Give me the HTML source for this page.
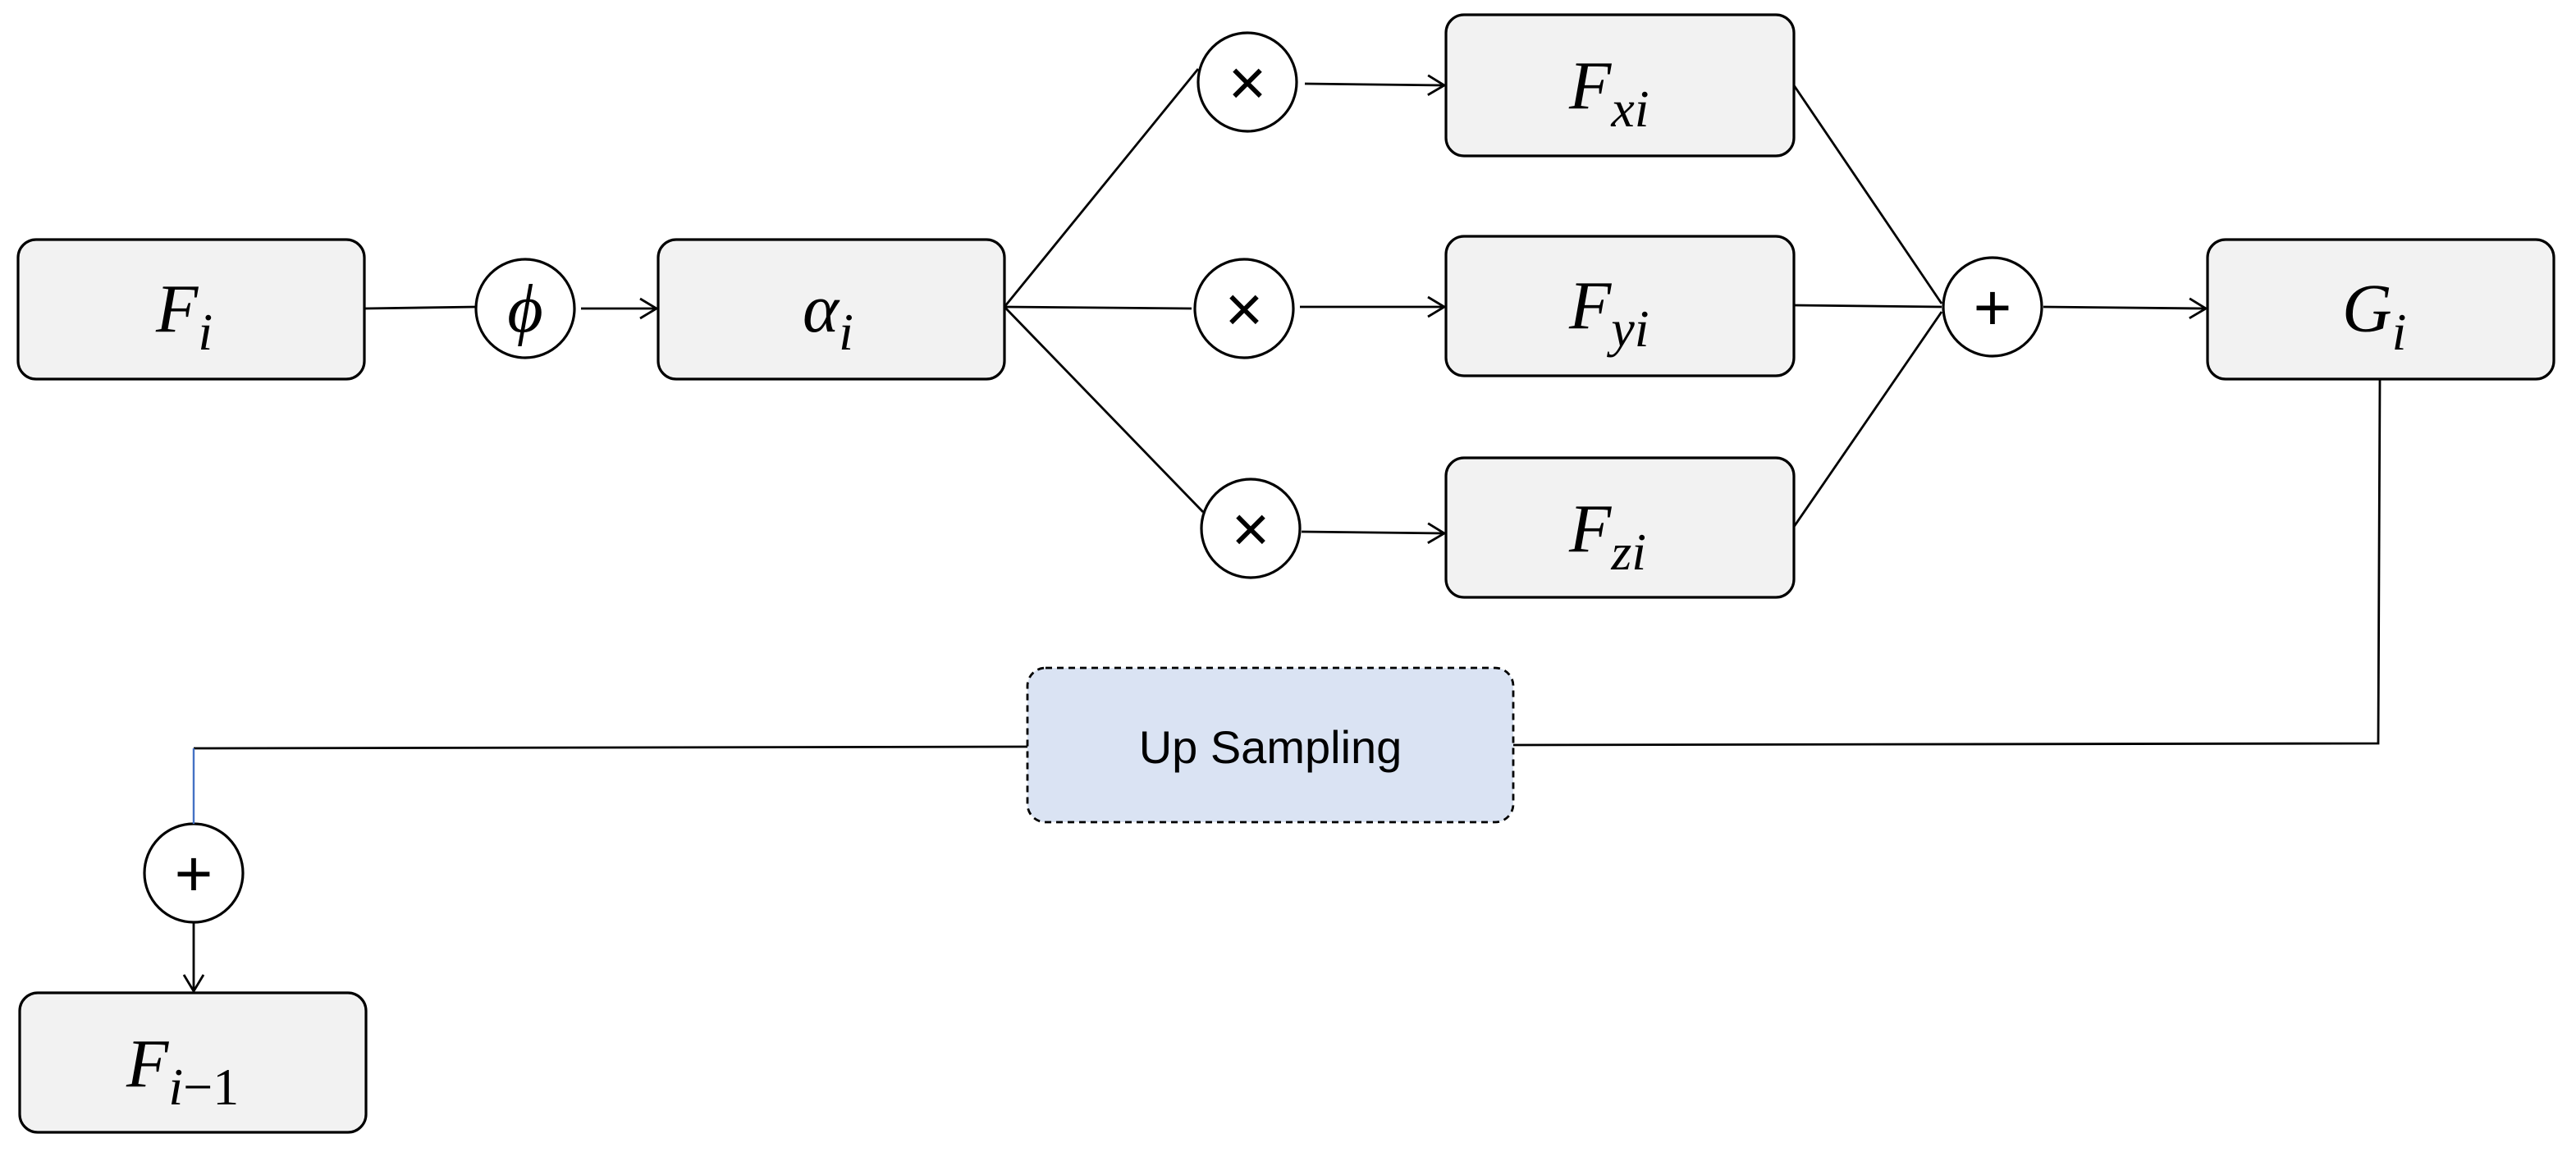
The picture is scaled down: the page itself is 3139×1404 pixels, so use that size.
<!DOCTYPE html>
<html><head><meta charset="utf-8"><style>
html,body{margin:0;padding:0;background:#fff;}
svg{display:block;}
.m{font-family:"Liberation Serif",serif;font-style:italic;}
</style></head><body>
<svg width="3139" height="1404" viewBox="0 0 1569.5 702" xmlns="http://www.w3.org/2000/svg">
<defs>
<marker id="a" markerWidth="14" markerHeight="14" refX="11" refY="7" orient="auto" markerUnits="userSpaceOnUse">
<path d="M1,1 L11,7 L1,13" fill="none" stroke="#000" stroke-width="1.4"/>
</marker>
</defs>
<g fill="#f2f2f2" stroke="#000" stroke-width="1.6">
<rect x="11" y="146" width="211" height="85" rx="11"/>
<rect x="401" y="146" width="211" height="85" rx="11"/>
<rect x="881" y="9" width="212" height="86" rx="11"/>
<rect x="881" y="144" width="212" height="85" rx="11"/>
<rect x="881" y="279" width="212" height="85" rx="11"/>
<rect x="1345" y="146" width="211" height="85" rx="11"/>
<rect x="12" y="605" width="211" height="85" rx="11"/>
</g>
<rect x="626" y="407" width="296" height="94" rx="11" fill="#dae3f3" stroke="#000" stroke-width="1.4" stroke-dasharray="4,3"/>
<g fill="#fff" stroke="#000" stroke-width="1.6">
<circle cx="320" cy="188" r="30"/>
<circle cx="760" cy="50" r="30"/>
<circle cx="758" cy="188" r="30"/>
<circle cx="762" cy="322" r="30"/>
<circle cx="1214" cy="187" r="30"/>
<circle cx="118" cy="532" r="30"/>
</g>
<g stroke="#000" stroke-width="1.4" fill="none">
<line x1="222" y1="188" x2="290" y2="187"/>
<line x1="354" y1="188" x2="400" y2="188" marker-end="url(#a)"/>
<line x1="612" y1="187" x2="730" y2="42"/>
<line x1="612" y1="187" x2="726" y2="188"/>
<line x1="612" y1="187" x2="733" y2="312"/>
<line x1="795" y1="51" x2="880" y2="52" marker-end="url(#a)"/>
<line x1="792" y1="187" x2="880" y2="187" marker-end="url(#a)"/>
<line x1="793" y1="324" x2="880" y2="325" marker-end="url(#a)"/>
<line x1="1093" y1="52" x2="1183" y2="185"/>
<line x1="1093" y1="186" x2="1183" y2="187"/>
<line x1="1093" y1="321" x2="1183" y2="190"/>
<line x1="1245" y1="187" x2="1344" y2="188" marker-end="url(#a)"/>
<polyline points="1450,231 1449,453 922,454"/>
<line x1="626" y1="455" x2="118" y2="456"/>
<line x1="118" y1="562" x2="118" y2="604" marker-end="url(#a)"/>
</g>
<line x1="118" y1="456" x2="118" y2="502" stroke="#4472c4" stroke-width="1.2"/>
<g font-family="Liberation Sans, sans-serif" font-size="40" text-anchor="middle">
<text x="760" y="64">×</text>
<text x="758" y="202">×</text>
<text x="762" y="336">×</text>
<text x="1214" y="201">+</text>
<text x="118" y="546">+</text>
</g>
<g class="m" font-size="42">
<text x="320" y="202" text-anchor="middle">ϕ</text>
<text x="95" y="202">F<tspan font-size="32" dy="11">i</tspan></text>
<text x="489" y="202">α<tspan font-size="32" dy="11">i</tspan></text>
<text x="956" y="66">F<tspan font-size="32" dy="11">xi</tspan></text>
<text x="956" y="200">F<tspan font-size="32" dy="11">yi</tspan></text>
<text x="956" y="336">F<tspan font-size="32" dy="11">zi</tspan></text>
<text x="1427" y="202">G<tspan font-size="32" dy="11">i</tspan></text>
<text x="77" y="662">F<tspan font-size="32" dy="11">i</tspan><tspan font-style="normal" font-size="32">−1</tspan></text>
</g>
<text x="774" y="465" text-anchor="middle" font-family="Liberation Sans, sans-serif" font-size="28">Up Sampling</text>
</svg>
</body></html>
